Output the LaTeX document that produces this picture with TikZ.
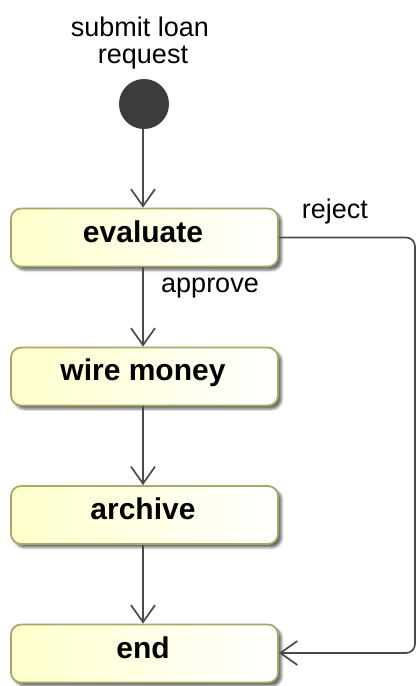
\documentclass[tikz,border=0pt]{standalone}
\usepackage{fontspec}
\setmainfont{Liberation Sans}
\usetikzlibrary{arrows.meta,shadows.blur}
\definecolor{boxedge}{HTML}{A8A868}
\definecolor{boxfill}{HTML}{FFFFCC}
\definecolor{wire}{HTML}{4A4A4A}
\definecolor{startdot}{HTML}{3C3C3C}
\tikzset{
  action/.style={draw=boxedge, line width=1.8pt, rounded corners=10pt,
    left color=boxfill, right color=white,
    minimum width=267pt, minimum height=58pt, inner sep=0pt,
    blur shadow={shadow xshift=3.5pt, shadow yshift=-3.5pt, shadow blur steps=5, shadow blur radius=2.5pt, shadow opacity=60}},
  actiontext/.style={font=\fontsize{30}{32}\selectfont\bfseries, anchor=base},
  lbl/.style={font=\fontsize{27}{27}\selectfont, anchor=base},
  flow/.style={draw=wire, line width=1.7pt, -{Straight Barb[length=17pt, width=24pt, line width=1.7pt]}}
}
\begin{document}
\begin{tikzpicture}[x=1pt, y=-1pt]
  \useasboundingbox (0,0) rectangle (419,686);

  % initial node and its caption
  \node[circle, fill=startdot, minimum size=50pt, inner sep=0pt] (start) at (144,104) {};
  \node[lbl] (cap1) at (140,36) {submit loan};
  \node[lbl] (cap2) at (143,63) {request};

  % action boxes
  \node[action] (eval)  at (144.5,237.5) {};
  \node[action] (wire)  at (144.5,376.5) {};
  \node[action] (arch)  at (144.5,515) {};
  \node[action] (done)  at (144.5,653.5) {};

  \node[actiontext] (tEval) at (143,242) {evaluate};
  \node[actiontext] (tWire) at (143,380) {wire money};
  \node[actiontext] (tArch) at (143,519) {archive};
  \node[actiontext] (tDone) at (143,658) {end};

  % control flows
  \draw[flow] (start.south -| 143,0) -- (eval.north -| 143,0);
  \draw[flow] (eval.south -| 143,0) -- (wire.north -| 143,0);
  \draw[flow] (wire.south -| 143,0) -- (arch.north -| 143,0);
  \draw[flow] (arch.south -| 143,0) -- (done.north -| 143,0);

  \coordinate (turnA) at (415,237.5);
  \coordinate (turnB) at (415,653);
  \draw[flow, rounded corners=9pt] (eval.east) -- (turnA) -- (turnB) -- (done.east |- turnB);

  % guards
  \node[lbl] (gReject)  at (335,218) {reject};
  \node[lbl] (gApprove) at (210,292) {approve};
\end{tikzpicture}
\end{document}
